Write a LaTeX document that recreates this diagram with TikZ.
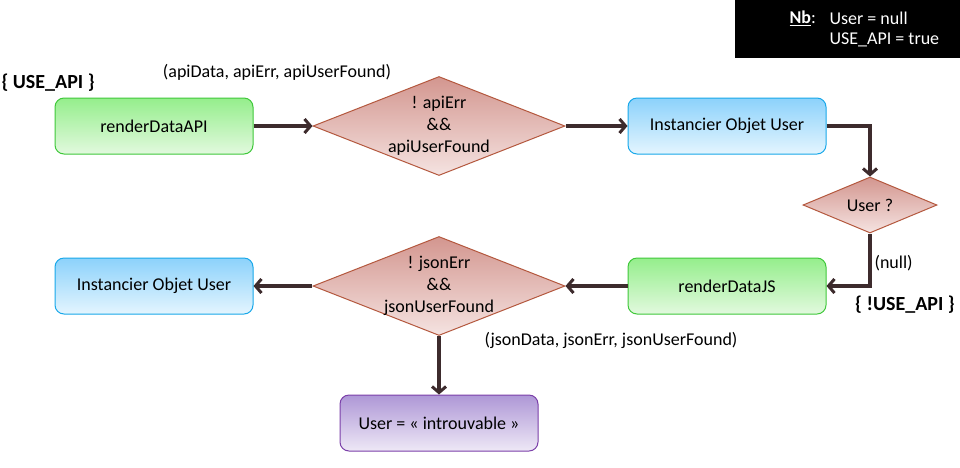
\documentclass[tikz,border=0pt]{standalone}
\usepackage{fontspec}
\setmainfont{Carlito}
\usetikzlibrary{shapes.geometric,arrows.meta}
\definecolor{arr}{HTML}{3D2B2D}
\definecolor{gtop}{HTML}{95EE8C}
\definecolor{gbot}{HTML}{E2F9DE}
\definecolor{gbrd}{HTML}{3FC83A}
\definecolor{btop}{HTML}{8CD2FB}
\definecolor{bbot}{HTML}{E4F5FE}
\definecolor{bbrd}{HTML}{18A8EA}
\definecolor{dtop}{HTML}{D3968F}
\definecolor{dbot}{HTML}{F5E3E1}
\definecolor{dbrd}{HTML}{B4583E}
\definecolor{ptop}{HTML}{AE97D6}
\definecolor{pbot}{HTML}{EEE8F6}
\definecolor{pbrd}{HTML}{7B3FA9}
\tikzset{
  txt/.style={font=\fontsize{18}{21}\selectfont, text=black},
  boxbase/.style={txt, rounded corners=9pt, minimum width=198pt, minimum height=56pt, line width=1pt, shading=axis, shading angle=0},
  greenbox/.style={boxbase, draw=gbrd, top color=gtop, bottom color=gbot},
  bluebox/.style={boxbase, draw=bbrd, top color=btop, bottom color=bbot},
  purplebox/.style={boxbase, draw=pbrd, top color=ptop, bottom color=pbot},
  decision/.style={diamond, inner sep=0pt, draw=dbrd, line width=1pt, top color=dtop, bottom color=dbot},
  dtext/.style={txt, font=\fontsize{18}{22}\selectfont, align=center, inner sep=0pt},
  flow/.style={draw=arr, line width=3.2pt, -{Straight Barb[length=6pt,width=14pt,line width=3pt]}},
  lbl/.style={txt},
  big/.style={font=\bfseries\fontsize{20}{24}\selectfont}
}
\begin{document}
\begin{tikzpicture}[x=1pt,y=-1pt]
\useasboundingbox (0,0) rectangle (960,467);
\fill[white] (0,0) rectangle (960,467);
% Nb box
\fill[black] (735,0) rectangle (960,58);
\node[txt, text=white, anchor=west] (nb) at (786,18) {\textbf{\underline{Nb}}:};
\node[txt, text=white, anchor=west] (nb1) at (826,18) {User = null};
\node[txt, text=white, anchor=west] (nb2) at (826,40) {USE\_API = true};
% nodes
\node[big, anchor=west] (useapi) at (-2,83) {\{ USE\_API \}};
\node[greenbox] (rda) at (154,126) {renderDataAPI};
\node[lbl] (apilbl) at (277,72) {(apiData, apiErr, apiUserFound)};
\node[decision, minimum width=252pt, minimum height=99pt] (d1) at (439,126) {};
\node[dtext] (d1t) at (d1.center) {! apiErr\\\&\&\\apiUserFound};
\node[bluebox] (inst1) at (727,126) {Instancier Objet User};
\node[decision, minimum width=134pt, minimum height=56pt] (d2) at (870,205) {};
\node[dtext] (d2t) at (d2.center) {User ?};
\node[greenbox] (rdj) at (727,286) {renderDataJS};
\node[lbl, anchor=west] (nulllbl) at (871,263) {(null)};
\node[big] (nouse) at (905,305) {\{ !USE\_API \}};
\node[decision, minimum width=252pt, minimum height=99pt] (d3) at (439,286) {};
\node[dtext] (d3t) at (d3.center) {! jsonErr\\\&\&\\jsonUserFound};
\node[lbl] (jsonlbl) at (611,340) {(jsonData, jsonErr, jsonUserFound)};
\node[bluebox] (inst2) at (154,286) {Instancier Objet User};
\node[purplebox] (user) at (439,423) {User = « introuvable »};
% connectors
\draw[flow] (rda) -- (d1);
\draw[flow] (d1) -- (inst1);
\draw[flow] (inst1.east) -| (d2.north);
\draw[flow] (d2.south) |- (rdj.east);
\draw[flow] (rdj) -- (d3);
\draw[flow] (d3) -- (inst2);
\draw[flow] (d3) -- (user);
\end{tikzpicture}
\end{document}
